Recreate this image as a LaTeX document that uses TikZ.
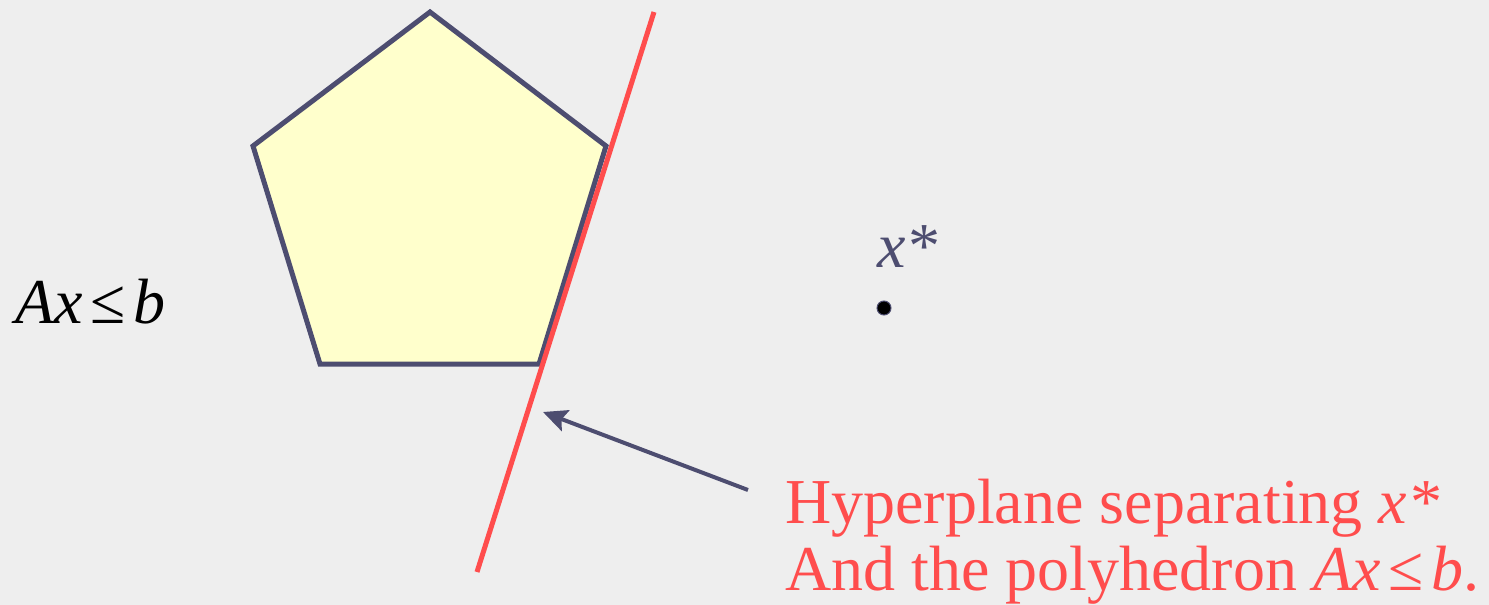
\documentclass[tikz,border=0pt]{standalone}
\usepackage{fontspec}
\setmainfont{Liberation Serif}
\usetikzlibrary{arrows.meta}
\definecolor{bgc}{HTML}{EEEEEE}
\definecolor{edgec}{HTML}{4D4D70}
\definecolor{fillc}{HTML}{FFFFCC}
\definecolor{redc}{HTML}{FF4D4D}
\newcommand{\leqsp}{\hspace{8pt}≤\hspace{8pt}}
\tikzset{
  txt/.style={inner sep=0pt, anchor=base west, font=\fontsize{64}{67}\selectfont},
  poly/.style={draw=edgec, fill=fillc, line width=5pt, line join=miter},
  hyper/.style={draw=redc, line width=5pt},
  pointer/.style={draw=edgec, line width=4pt, -{Stealth[length=24pt,width=22pt,inset=4pt]}}
}
\begin{document}
\begin{tikzpicture}[x=1pt,y=-1pt]
\fill[bgc] (0,0) rectangle (1489,605);
\useasboundingbox (0,0) rectangle (1489,605);
% pentagon
\coordinate (p1) at (430,12);
\coordinate (p2) at (606,146);
\coordinate (p3) at (539,364);
\coordinate (p4) at (320,364);
\coordinate (p5) at (253,146);
\path[poly] (p1) -- (p2) -- (p3) -- (p4) -- (p5) -- cycle;
% hyperplane
\coordinate (h1) at (654,12);
\coordinate (h2) at (477,572);
\draw[hyper] (h1) -- (h2);
% labels
\node[txt] (axb) at (15,323) {\textit{Ax}\leqsp\textit{b}};
\node[txt, text=edgec] (xs) at (877,267) {\textit{x*}};
\node[circle, fill=black, draw=edgec, line width=1pt, minimum size=14pt, inner sep=0pt] (pt) at (884,308) {};
\node[txt, text=redc] (lbl) at (785,523) {Hyperplane separating \textit{x*}};
\node[txt, text=redc] (lbl2) at (785,590) {And the polyhedron \textit{Ax}\leqsp\textit{b}.};
% arrow
\coordinate (as) at (748,490);
\coordinate (ae) at (543,412);
\draw[pointer] (as) -- (ae);
\end{tikzpicture}
\end{document}
